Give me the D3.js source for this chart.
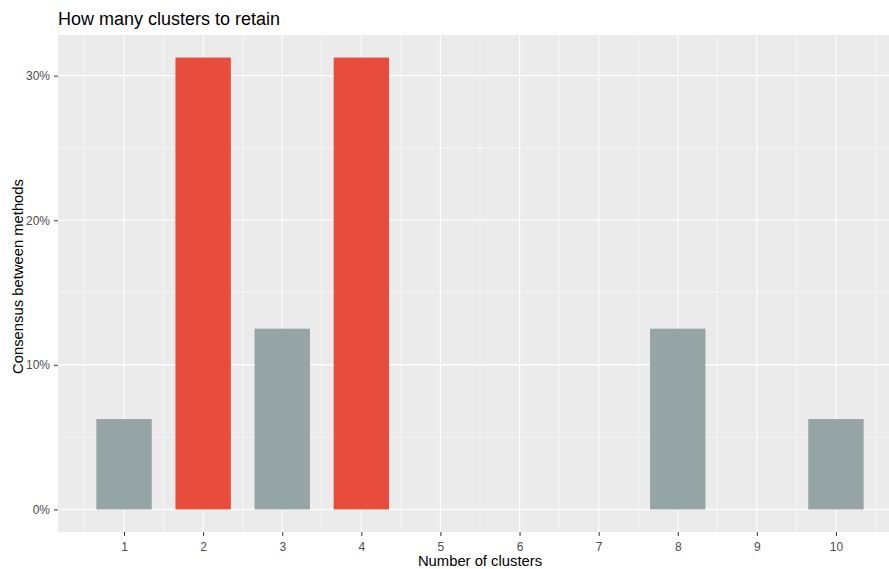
<!DOCTYPE html>
<html><head><meta charset="utf-8">
<script src="https://cdn.jsdelivr.net/npm/d3@7"></script>
<style>body{margin:0;background:#fff}svg{display:block}</style>
</head><body><svg id="c" width="889" height="569"></svg>
<script>
const clusters = [1, 2, 3, 4, 5, 6, 7, 8, 9, 10];
const consensus = [0.0625, 0.3125, 0.125, 0.3125, 0, 0, 0, 0.125, 0, 0.0625];
const highlighted = [false, true, false, true, false, false, false, false, false, false];
const yTicks = [0, 0.1, 0.2, 0.3];
const yMinor = [0.05, 0.15, 0.25];
const xMinor = [0.5, 1.5, 2.5, 3.5, 4.5, 5.5, 6.5, 7.5, 8.5, 9.5, 10.5];
const title = "How many clusters to retain";
const xTitle = "Number of clusters";
const yTitle = "Consensus between methods";

const svg = d3.select("#c");
const font = "'Liberation Sans', Arial, sans-serif";
const P = {l: 58, r: 902, t: 35, b: 532};
const barW = 0.7;
const xs = d3.scaleLinear().domain([0.165, 10.835]).range([P.l, P.r]);
const ymax = d3.max(consensus);
const ys = d3.scaleLinear().domain([-ymax * 0.05, ymax * 1.05]).range([P.b, P.t]);

svg.append("rect").attr("x", P.l).attr("y", P.t).attr("width", P.r - P.l).attr("height", P.b - P.t).attr("fill", "#EBEBEB");
const g = svg.append("g");
yMinor.forEach(v => g.append("line").attr("x1", P.l).attr("x2", P.r).attr("y1", ys(v)).attr("y2", ys(v)).attr("stroke", "#fff").attr("stroke-width", 0.55));
xMinor.forEach(v => g.append("line").attr("y1", P.t).attr("y2", P.b).attr("x1", xs(v)).attr("x2", xs(v)).attr("stroke", "#fff").attr("stroke-width", 0.55));
yTicks.forEach(v => g.append("line").attr("x1", P.l).attr("x2", P.r).attr("y1", ys(v)).attr("y2", ys(v)).attr("stroke", "#fff").attr("stroke-width", 1.1));
clusters.forEach(v => g.append("line").attr("y1", P.t).attr("y2", P.b).attr("x1", xs(v)).attr("x2", xs(v)).attr("stroke", "#fff").attr("stroke-width", 1.1));

svg.append("g").selectAll("rect").data(clusters.map((c, i) => ({c, v: consensus[i], h: highlighted[i]})).filter(d => d.v > 0))
  .join("rect")
  .attr("x", d => xs(d.c - barW / 2)).attr("width", d => xs(d.c + barW / 2) - xs(d.c - barW / 2))
  .attr("y", d => ys(d.v)).attr("height", d => ys(0) - ys(d.v))
  .attr("fill", d => d.h ? "#E74C3C" : "#95A5A6");

// axes
const xAxis = d3.axisBottom(xs).tickValues(clusters).tickSize(4).tickPadding(6).tickFormat(d3.format("d"));
const xa = svg.append("g").attr("transform", `translate(0,${P.b})`).call(xAxis);
const yAxis = d3.axisLeft(ys).tickValues(yTicks).tickSize(4).tickPadding(4).tickFormat(d3.format(".0%"));
const ya = svg.append("g").attr("transform", `translate(${P.l},0)`).call(yAxis);
[xa, ya].forEach(a => {
  a.select(".domain").remove();
  a.selectAll(".tick line").attr("stroke", "#333").attr("stroke-width", 1);
  a.selectAll(".tick text").attr("fill", "#4D4D4D").attr("font-family", font).attr("font-size", 12);
});

svg.append("text").attr("x", P.l).attr("y", 25).attr("font-family", font).attr("font-size", 18).attr("fill", "#000").text(title);
svg.append("text").attr("x", (P.l + P.r) / 2).attr("y", 566).attr("text-anchor", "middle").attr("font-family", font).attr("font-size", 14.8).attr("fill", "#000").text(xTitle);
svg.append("text").attr("transform", `translate(23,${(P.t + P.b) / 2 - 7}) rotate(-90)`).attr("text-anchor", "middle").attr("font-family", font).attr("font-size", 14.8).attr("fill", "#000").text(yTitle);
</script></body></html>
